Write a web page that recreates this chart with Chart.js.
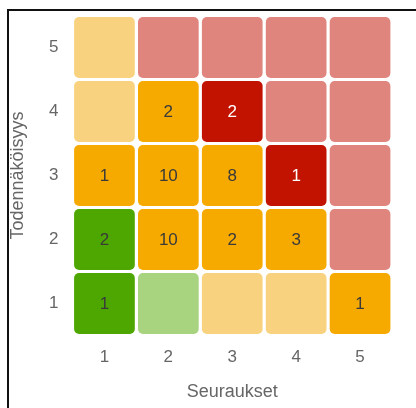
<!DOCTYPE html>
<html>
<head>
<meta charset="utf-8">
<script src="https://cdn.jsdelivr.net/npm/chart.js@4"></script>
<style>
  html, body { margin: 0; padding: 0; background: #fff; }
  #kehys { position: relative; width: 416px; height: 408px; overflow: hidden; }
  #reuna { position: absolute; left: 7px; top: 9px; width: 420px; height: 410px;
           border-left: 2px solid #111; border-top: 2px solid #111; pointer-events: none; }
  canvas { position: absolute; left: 0; top: 0; }
</style>
</head>
<body>
<div id="kehys">
  <canvas id="riskimatriisi" width="416" height="408"></canvas>
  <div id="reuna"></div>
</div>
<script>
// akselit
const seuraukset = ['1', '2', '3', '4', '5'];
const todennakoisyys = [1, 2, 3, 4, 5];

// riskien lukumäärät rivi kerrallaan (todennäköisyys 1..5), sarakkeet = seuraukset 1..5
const maarat_t1 = [1, null, null, null, 1];
const maarat_t2 = [2, 10, 2, 3, null];
const maarat_t3 = [1, 10, 8, 1, null];
const maarat_t4 = [null, 2, 2, null, null];
const maarat_t5 = [null, null, null, null, null];

// riskitaso jokaiselle solulle
const taso_t1 = ['matala', 'pieni', 'kohtalainen', 'kohtalainen', 'merkittava'];
const taso_t2 = ['matala', 'merkittava', 'merkittava', 'merkittava', 'korkea'];
const taso_t3 = ['merkittava', 'merkittava', 'merkittava', 'kriittinen', 'korkea'];
const taso_t4 = ['kohtalainen', 'merkittava', 'kriittinen', 'korkea', 'korkea'];
const taso_t5 = ['kohtalainen', 'korkea', 'korkea', 'korkea', 'korkea'];

const maarat = [maarat_t1, maarat_t2, maarat_t3, maarat_t4, maarat_t5];
const tasot = [taso_t1, taso_t2, taso_t3, taso_t4, taso_t5];

const varit = {
    matala: '#4DA700',
    pieni: '#A8D37F',
    kohtalainen: '#F9D27F',
    merkittava: '#F6AA00',
    korkea: '#E0857E',
    kriittinen: '#C21300'
};

const datasetit = todennakoisyys.map(function (t, r) {
    return {
        label: 'T' + t,
        data: seuraukset.map(function () { return [t - 0.475, t + 0.475]; }),
        maarat: maarat[r],
        backgroundColor: tasot[r].map(function (k) { return varit[k]; }),
        tekstivari: tasot[r].map(function (k) { return k === 'kriittinen' ? '#ffffff' : '#3a3a3a'; }),
        borderWidth: 0,
        borderRadius: 5,
        borderSkipped: false,
        barPercentage: 0.95,
        categoryPercentage: 1
    };
});

// numerot solujen keskelle
const solunumerot = {
    id: 'solunumerot',
    afterDatasetsDraw(chart) {
        const ctx = chart.ctx;
        ctx.save();
        ctx.font = '17px "Liberation Sans", Arial, sans-serif';
        ctx.textAlign = 'center';
        ctx.textBaseline = 'middle';
        chart.data.datasets.forEach(function (ds, i) {
            const meta = chart.getDatasetMeta(i);
            meta.data.forEach(function (el, j) {
                const v = ds.maarat[j];
                if (v === null || v === undefined) return;
                ctx.fillStyle = ds.tekstivari[j];
                ctx.fillText(String(v), el.x, (el.y + el.base) / 2 + 1);
            });
        });
        ctx.restore();
    }
};

const fontti = '"Liberation Sans", Arial, sans-serif';

const grafiikka = new Chart(document.getElementById('riskimatriisi'), {
    type: 'bar',
    data: {
        labels: seuraukset,
        datasets: datasetit
    },
    options: {
        responsive: false,
        animation: false,
        devicePixelRatio: 1,
        layout: { padding: { left: 0, right: 24, top: 15.5, bottom: 0 } },
        datasets: { bar: { grouped: false } },
        plugins: {
            legend: { display: false },
            tooltip: { enabled: false }
        },
        scales: {
            x: {
                type: 'category',
                offset: true,
                grid: { display: false, drawTicks: false },
                border: { display: false },
                ticks: {
                    color: '#666',
                    padding: 12,
                    font: { size: 17, family: fontti }
                },
                title: {
                    display: true,
                    text: 'Seuraukset',
                    color: '#666',
                    padding: { top: 0, bottom: 5 },
                    font: { size: 18, family: fontti }
                },
                afterFit: function (s) {
                    s.height = 72.5;
                    s.paddingLeft = 0;
                    s.paddingRight = 0;
                }
            },
            y: {
                type: 'linear',
                min: 0.5,
                max: 5.5,
                grid: { display: false, drawTicks: false },
                border: { display: false },
                afterBuildTicks: function (s) {
                    s.ticks = todennakoisyys.map(function (v) { return { value: v }; });
                },
                ticks: {
                    color: '#666',
                    padding: 14,
                    font: { size: 17, family: fontti }
                },
                title: {
                    display: true,
                    text: 'Todennäköisyys',
                    color: '#666',
                    padding: { top: 7, bottom: 0 },
                    font: { size: 18, family: fontti }
                },
                afterFit: function (s) {
                    s.width = 72.5;
                    s.paddingTop = 0;
                    s.paddingBottom = 0;
                }
            }
        }
    },
    plugins: [solunumerot]
});
</script>
</body>
</html>
